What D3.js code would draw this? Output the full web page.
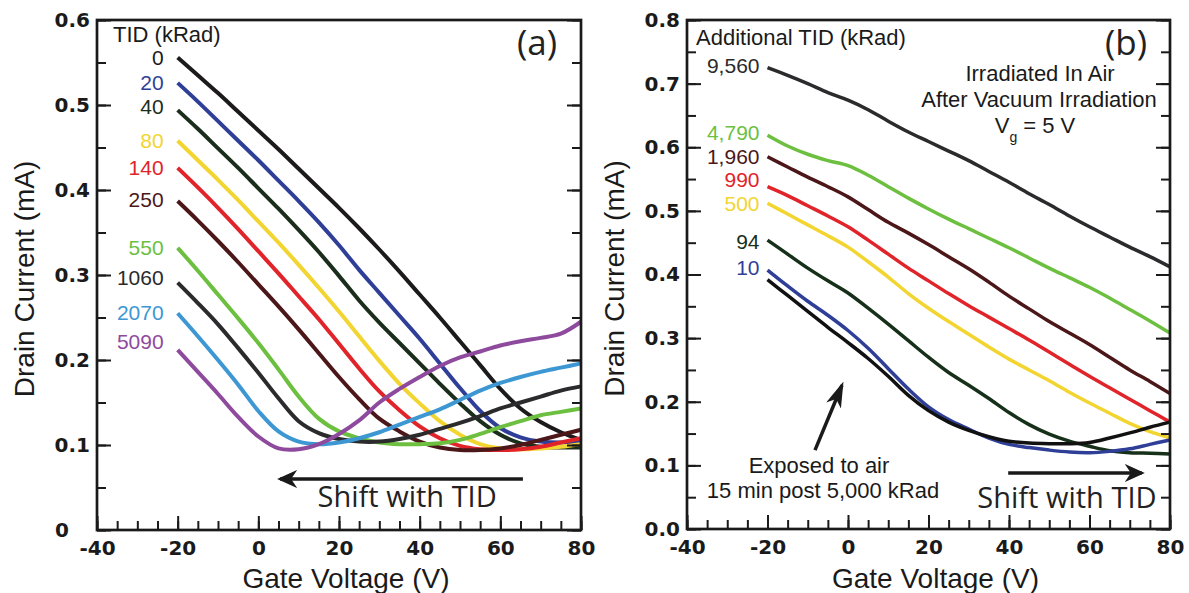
<!DOCTYPE html>
<html>
<head>
<meta charset="utf-8">
<script src="https://cdn.jsdelivr.net/npm/d3@7"></script>
<style>
  body { margin: 0; background: #fff; }
  svg { display: block; background: #fff; }
  .tick text { font-family: "DejaVu Sans", sans-serif; font-weight: bold; font-size: 20px; fill: #1a1a1a; }
  .tick line { stroke: #1a1a1a; stroke-width: 2; }
  .axis-title { font-family: "Liberation Sans", Arial, sans-serif; font-size: 28px; fill: #1a1a1a; }
  .legend-title, .note { font-family: "Liberation Sans", Arial, sans-serif; font-size: 22px; fill: #1a1a1a; }
  .legend-label { font-family: "Liberation Sans", Arial, sans-serif; font-size: 21px; }
  .shift { font-family: "Open Sans", sans-serif; font-size: 29px; fill: #222; }
  .panel-tag { font-family: "Open Sans", sans-serif; font-size: 35px; fill: #222; }
</style>
</head>
<body>
<svg id="chart" width="1189" height="593"></svg>
<script>
// Gate voltage grid (V) shared by every curve
const gateVoltage = [-20, -15, -10, -5, 0, 5, 10, 15, 20, 25, 30, 35, 40, 45, 50, 55, 60, 65, 70, 75, 80];

// Tick values
const voltTicks = [-40, -20, 0, 20, 40, 60, 80];
const currentTicksA = [0, 0.1, 0.2, 0.3, 0.4, 0.5, 0.6];
const currentTicksB = [0, 0.1, 0.2, 0.3, 0.4, 0.5, 0.6, 0.7, 0.8];

// Panel (a) - drain current (mA) per TID (kRad)
const tidLabelsA = ["0", "20", "40", "80", "140", "250", "550", "1060", "2070", "5090"];
const aTid0    = [0.556, 0.535, 0.514, 0.492, 0.470, 0.448, 0.425, 0.402, 0.379, 0.355, 0.330, 0.304, 0.277, 0.250, 0.222, 0.194, 0.166, 0.143, 0.127, 0.115, 0.106];
const aTid20   = [0.526, 0.504, 0.481, 0.458, 0.435, 0.411, 0.387, 0.362, 0.335, 0.306, 0.279, 0.252, 0.225, 0.196, 0.167, 0.140, 0.120, 0.109, 0.104, 0.103, 0.104];
const aTid40   = [0.494, 0.472, 0.449, 0.426, 0.402, 0.378, 0.353, 0.327, 0.299, 0.270, 0.244, 0.220, 0.196, 0.172, 0.149, 0.128, 0.112, 0.102, 0.098, 0.097, 0.097];
const aTid80   = [0.458, 0.435, 0.412, 0.388, 0.363, 0.338, 0.312, 0.285, 0.257, 0.228, 0.199, 0.172, 0.149, 0.128, 0.112, 0.101, 0.096, 0.095, 0.096, 0.098, 0.101];
const aTid140  = [0.426, 0.403, 0.379, 0.354, 0.328, 0.302, 0.275, 0.248, 0.219, 0.190, 0.163, 0.141, 0.122, 0.108, 0.099, 0.095, 0.094, 0.095, 0.098, 0.103, 0.108];
const aTid250  = [0.387, 0.364, 0.340, 0.315, 0.289, 0.263, 0.236, 0.208, 0.180, 0.154, 0.131, 0.116, 0.104, 0.097, 0.094, 0.094, 0.096, 0.100, 0.106, 0.112, 0.118];
const aTid550  = [0.332, 0.305, 0.277, 0.249, 0.220, 0.189, 0.157, 0.131, 0.116, 0.108, 0.103, 0.101, 0.101, 0.102, 0.106, 0.113, 0.121, 0.128, 0.135, 0.139, 0.143];
const aTid1060 = [0.291, 0.267, 0.242, 0.214, 0.185, 0.155, 0.128, 0.114, 0.107, 0.104, 0.104, 0.107, 0.112, 0.119, 0.126, 0.134, 0.143, 0.150, 0.157, 0.164, 0.169];
const aTid2070 = [0.255, 0.228, 0.200, 0.171, 0.140, 0.116, 0.104, 0.101, 0.103, 0.108, 0.115, 0.124, 0.133, 0.142, 0.153, 0.164, 0.173, 0.180, 0.186, 0.191, 0.196];
const aTid5090 = [0.212, 0.186, 0.160, 0.133, 0.110, 0.096, 0.095, 0.101, 0.113, 0.129, 0.150, 0.166, 0.180, 0.193, 0.203, 0.210, 0.217, 0.222, 0.226, 0.231, 0.245];

// Panel (b) - additional TID in air (kRad); last curve is the 15 min air exposure
const tidLabelsB = ["9,560", "4,790", "1,960", "990", "500", "94", "10", ""];
const bTid9560 = [0.725, 0.713, 0.700, 0.686, 0.674, 0.659, 0.641, 0.624, 0.609, 0.594, 0.579, 0.562, 0.545, 0.527, 0.510, 0.492, 0.475, 0.459, 0.443, 0.428, 0.412];
const bTid4790 = [0.619, 0.602, 0.589, 0.579, 0.571, 0.556, 0.538, 0.520, 0.503, 0.487, 0.472, 0.457, 0.442, 0.426, 0.410, 0.395, 0.380, 0.363, 0.345, 0.327, 0.308];
const bTid1960 = [0.585, 0.569, 0.553, 0.538, 0.522, 0.502, 0.482, 0.465, 0.447, 0.428, 0.409, 0.388, 0.366, 0.346, 0.326, 0.308, 0.290, 0.270, 0.250, 0.232, 0.213];
const bTid990  = [0.538, 0.524, 0.508, 0.492, 0.475, 0.454, 0.432, 0.410, 0.390, 0.370, 0.351, 0.333, 0.315, 0.297, 0.278, 0.259, 0.240, 0.222, 0.204, 0.186, 0.168];
const bTid500  = [0.512, 0.495, 0.478, 0.461, 0.443, 0.420, 0.396, 0.370, 0.347, 0.326, 0.306, 0.286, 0.267, 0.250, 0.233, 0.215, 0.198, 0.182, 0.166, 0.153, 0.143];
const bTid94   = [0.454, 0.432, 0.410, 0.390, 0.371, 0.347, 0.322, 0.296, 0.270, 0.246, 0.226, 0.205, 0.183, 0.164, 0.149, 0.138, 0.130, 0.123, 0.120, 0.119, 0.118];
const bTid10   = [0.407, 0.382, 0.358, 0.336, 0.312, 0.284, 0.252, 0.220, 0.192, 0.172, 0.157, 0.143, 0.133, 0.128, 0.124, 0.121, 0.120, 0.122, 0.126, 0.133, 0.140];
const bExposed = [0.392, 0.367, 0.342, 0.317, 0.293, 0.268, 0.240, 0.210, 0.186, 0.168, 0.155, 0.145, 0.138, 0.135, 0.134, 0.134, 0.136, 0.143, 0.151, 0.160, 0.168];

// Colours and label nudges (px) - styling, kept apart from the data
const colorsA = ["#1c1a1b", "#2f3f98", "#1a2e1b", "#f2d530", "#e0242a", "#4c1718", "#6cbf3f", "#2b2a2c", "#3c97d3", "#8e4a9d"];
const colorsB = ["#2b2a2c", "#6cbf3f", "#4c1718", "#e0242a", "#f2d530", "#17301a", "#2f3f98", "#111111"];
const nudgeA = [0, 0, -3, 0, 0, -1, 0, -5, -1, -8];
const nudgeB = [-2, -3, 0, -7, 0, 2, -2, 0];

const svg = d3.select("#chart");

// Arrow heads
const defs = svg.append("defs");
defs.append("marker")
  .attr("id", "head")
  .attr("viewBox", "0 0 20 18")
  .attr("refX", 17).attr("refY", 9)
  .attr("markerWidth", 20).attr("markerHeight", 18)
  .attr("markerUnits", "userSpaceOnUse")
  .attr("orient", "auto")
  .append("path")
  .attr("d", "M0,0 L20,9 L0,18 L6,9 Z")
  .attr("fill", "#1a1a1a");
defs.append("marker")
  .attr("id", "headLong")
  .attr("viewBox", "0 0 26 16")
  .attr("refX", 22).attr("refY", 8)
  .attr("markerWidth", 26).attr("markerHeight", 16)
  .attr("markerUnits", "userSpaceOnUse")
  .attr("orient", "auto")
  .append("path")
  .attr("d", "M0,0 L26,8 L0,16 L7,8 Z")
  .attr("fill", "#1a1a1a");

function drawPanel(p) {
  const x = d3.scaleLinear().domain([-40, 80]).range([p.left, p.right]);
  const y = d3.scaleLinear().domain([0, p.yMax]).range([p.bottom, p.top]);
  const g = svg.append("g");

  const line = d3.line()
    .x((d, i) => x(gateVoltage[i]))
    .y(d => y(d))
    .curve(d3.curveCatmullRom.alpha(0.5));

  // Curves + legend labels
  p.series.forEach((values, i) => {
    g.append("path")
      .attr("d", line(values))
      .attr("fill", "none")
      .attr("stroke", p.colors[i])
      .attr("stroke-width", p.lineWidth);
    if (p.labels[i]) {
      g.append("text")
        .attr("class", "legend-label")
        .attr("x", x(gateVoltage[0]) - p.labelGap)
        .attr("y", y(values[0]) + p.nudge[i])
        .attr("dy", "0.35em")
        .attr("text-anchor", "end")
        .attr("fill", p.colors[i])
        .text(p.labels[i]);
    }
  });

  // Axes (ticks pointing inward)
  const minorY = d3.range(0, p.yMax + 0.001, 0.05);
  const minorX = d3.range(-40, 81, 5);

  const left = g.append("g").attr("transform", `translate(${p.left},0)`)
    .call(d3.axisLeft(y).tickValues(p.yTicks).tickSize(-14).tickPadding(7).tickFormat(p.yFormat));
  g.append("g").attr("transform", `translate(${p.left},0)`)
    .call(d3.axisLeft(y).tickValues(minorY).tickSize(-9).tickFormat(""));
  g.append("g").attr("transform", `translate(${p.right},0)`)
    .call(d3.axisRight(y).tickValues(p.yTicks).tickSize(-14).tickFormat(""));
  g.append("g").attr("transform", `translate(${p.right},0)`)
    .call(d3.axisRight(y).tickValues(minorY).tickSize(-9).tickFormat(""));
  g.append("g").attr("transform", `translate(0,${p.bottom})`)
    .call(d3.axisBottom(x).tickValues(voltTicks).tickSize(-14).tickPadding(11).tickFormat(d => String(d)));
  g.append("g").attr("transform", `translate(0,${p.bottom})`)
    .call(d3.axisBottom(x).tickValues(minorX).tickSize(-9).tickFormat(""));
  g.selectAll(".domain").remove();

  if (p.zeroLeft) {
    left.selectAll(".tick text").filter(d => d === 0)
      .attr("text-anchor", "start").attr("x", -42);
  }

  // Frame
  g.append("rect")
    .attr("x", p.left).attr("y", p.top)
    .attr("width", p.right - p.left).attr("height", p.bottom - p.top)
    .attr("fill", "none").attr("stroke", "#1a1a1a").attr("stroke-width", 2.7);

  // Axis titles
  g.append("text").attr("class", "axis-title")
    .attr("x", (p.left + p.right) / 2 + 7).attr("y", 588)
    .attr("text-anchor", "middle").text("Gate Voltage (V)");
  g.append("text").attr("class", "axis-title")
    .attr("transform", `translate(${p.left - 63},${(p.top + p.bottom) / 2 + 4}) rotate(-90)`)
    .attr("text-anchor", "middle").text("Drain Current (mA)");

  // Panel tag
  g.append("text").attr("class", "panel-tag")
    .attr("x", p.right - 44).attr("y", 55)
    .attr("text-anchor", "middle").text(p.tag);

  // Shift arrow + text
  g.append("line")
    .attr("x1", x(p.shift[0])).attr("x2", x(p.shift[1]))
    .attr("y1", y(p.shift[2])).attr("y2", y(p.shift[2]))
    .attr("stroke", "#1a1a1a").attr("stroke-width", 3.5)
    .attr("marker-end", "url(#head)");
  g.append("text").attr("class", "shift")
    .attr("x", x(p.shiftText[0])).attr("y", y(p.shiftText[1]))
    .attr("dy", "0.36em").attr("text-anchor", "middle")
    .text("Shift with TID");

  return { g, x, y };
}

// Panel (a)
const pa = drawPanel({
  left: 97, right: 581, top: 20, bottom: 530, yMax: 0.6,
  yTicks: currentTicksA,
  yFormat: d => d === 0 ? "0" : d3.format(".1f")(d),
  zeroLeft: true,
  series: [aTid0, aTid20, aTid40, aTid80, aTid140, aTid250, aTid550, aTid1060, aTid2070, aTid5090],
  labels: tidLabelsA, colors: colorsA, nudge: nudgeA, lineWidth: 4, labelGap: 14,
  tag: "(a)",
  shift: [65.6, 5.4, 0.06], shiftText: [36.9, 0.039]
});
pa.g.append("text").attr("class", "legend-title")
  .attr("x", 113).attr("y", 42).text("TID (kRad)");

// Panel (b)
const pb = drawPanel({
  left: 687, right: 1170, top: 20, bottom: 529, yMax: 0.8,
  yTicks: currentTicksB,
  yFormat: d3.format(".1f"),
  zeroLeft: false,
  series: [bTid9560, bTid4790, bTid1960, bTid990, bTid500, bTid94, bTid10, bExposed],
  labels: tidLabelsB, colors: colorsB, nudge: nudgeB, lineWidth: 3.5, labelGap: 8,
  tag: "(b)",
  shift: [39.8, 73.0, 0.088], shiftText: [54.4, 0.05]
});
pb.g.append("text").attr("class", "legend-title")
  .attr("x", 696).attr("y", 45).text("Additional TID (kRad)");

const notes = pb.g.append("g").attr("class", "note").attr("text-anchor", "middle");
notes.append("text").attr("x", 1040).attr("y", 81).text("Irradiated In Air");
notes.append("text").attr("x", 1039).attr("y", 107).text("After Vacuum Irradiation");
const vg = notes.append("text").attr("x", 1035).attr("y", 133);
vg.append("tspan").text("V");
vg.append("tspan").attr("dy", 9).attr("font-size", 14).text("g");
vg.append("tspan").attr("dy", -9).text(" = 5 V");

notes.append("text").attr("x", pb.x(-7.2)).attr("y", pb.y(0.1)).attr("dy", "0.36em").text("Exposed to air");
notes.append("text").attr("x", pb.x(-6.2)).attr("y", pb.y(0.061)).attr("dy", "0.36em").text("15 min post 5,000 kRad");

pb.g.append("line")
  .attr("x1", pb.x(-8.2)).attr("y1", pb.y(0.124))
  .attr("x2", pb.x(-1.5)).attr("y2", pb.y(0.226))
  .attr("stroke", "#1a1a1a").attr("stroke-width", 3.5)
  .attr("marker-end", "url(#headLong)");
</script>
</body>
</html>
